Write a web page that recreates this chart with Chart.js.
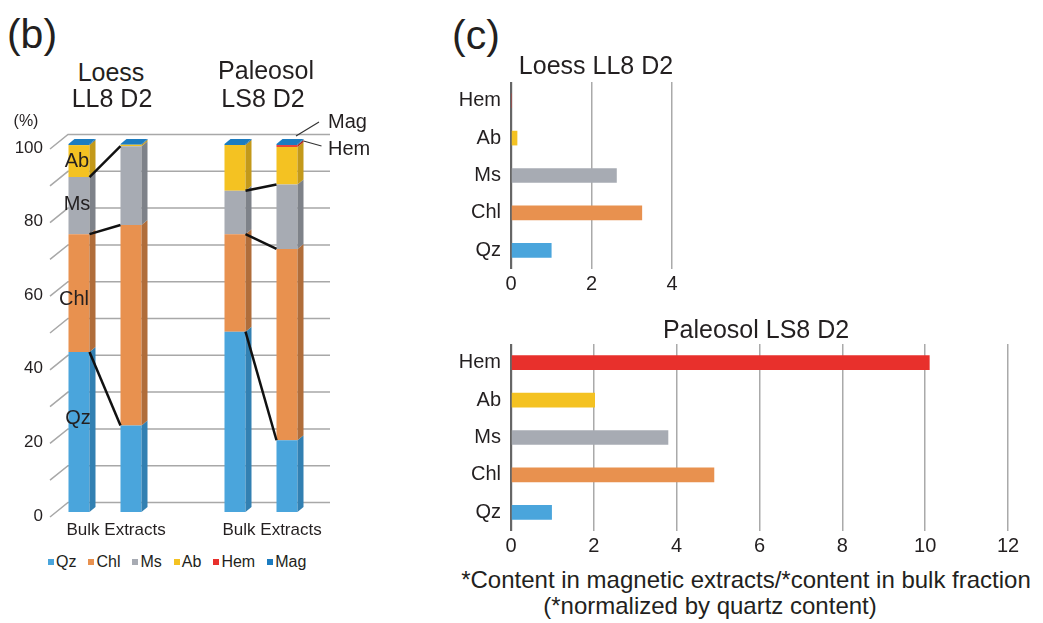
<!DOCTYPE html>
<html>
<head>
<meta charset="utf-8">
<script src="https://cdn.jsdelivr.net/npm/chart.js@4.4.1/dist/chart.umd.min.js"></script>
<style>
body{margin:0;width:1043px;height:623px;background:#fff;position:relative;overflow:hidden;font-family:'Liberation Sans',Arial,sans-serif;color:#231f20}
.t{position:absolute;white-space:nowrap;line-height:1;transform:translate(-50%,-50%);z-index:2}
.l{position:absolute;white-space:nowrap;line-height:1;transform:translateY(-50%);z-index:2}
.wrap{position:absolute;z-index:1}
canvas{display:block}
#legend{position:absolute;left:48px;top:553px;height:18px;display:flex;align-items:center;font-size:16px;z-index:2}
#legend span.i{display:flex;align-items:center;margin-right:12px}
#legend span.b{width:6px;height:6px;margin-right:2px;display:inline-block}
</style>
</head>
<body>

<div class="t" style="left:32px;top:34px;font-size:41px">(b)</div>
<div class="t" style="left:111px;top:72px;font-size:25px">Loess</div>
<div class="t" style="left:112px;top:98px;font-size:25px">LL8 D2</div>
<div class="t" style="left:266px;top:70px;font-size:25px">Paleosol</div>
<div class="t" style="left:263px;top:98px;font-size:25px">LS8 D2</div>
<div class="t" style="left:26px;top:121px;font-size:16px">(%)</div>

<div class="t" style="left:77px;top:160px;font-size:20px">Ab</div>
<div class="t" style="left:77px;top:203px;font-size:20px">Ms</div>
<div class="t" style="left:74px;top:298px;font-size:20px">Chl</div>
<div class="t" style="left:78px;top:417px;font-size:20px">Qz</div>
<div class="l" style="left:328px;top:121px;font-size:20px">Mag</div>
<div class="l" style="left:328px;top:148px;font-size:20px">Hem</div>

<div class="wrap" style="left:0;top:100px"><canvas id="chartB" width="340" height="446"></canvas></div>
<div id="legend"></div>

<div class="t" style="left:476px;top:35px;font-size:41px">(c)</div>
<div class="t" style="left:596px;top:65px;font-size:25px">Loess LL8 D2</div>
<div class="t" style="left:756px;top:329px;font-size:25px">Paleosol LS8 D2</div>
<div class="wrap" style="left:440px;top:60px"><canvas id="chartC1" width="260" height="240"></canvas></div>
<div class="wrap" style="left:440px;top:322px"><canvas id="chartC2" width="600" height="240"></canvas></div>
<div class="t" style="left:746px;top:580px;font-size:24px">*Content in magnetic extracts/*content in bulk fraction</div>
<div class="t" style="left:710px;top:606px;font-size:24px">(*normalized by quartz content)</div>

<script>
// (b) mineral composition, %
const samples = ['Bulk', 'Extracts', '', 'Bulk', 'Extracts'];
const series = ['Qz', 'Chl', 'Ms', 'Ab', 'Hem', 'Mag'];
const qzPct  = [43.5, 23.5, null, 49.0, 19.5];
const chlPct = [32.0, 54.5, null, 26.5, 52.0];
const msPct  = [15.5, 21.4, null, 11.8, 17.5];
const abPct  = [8.7, 0.4, null, 12.4, 10.2];
const hemPct = [0, 0, null, 0, 0.5];
const magPct = [0.3, 0.2, null, 0.3, 0.3];

// (c) extract/bulk ratio, normalized by quartz
const minerals = ['Hem', 'Ab', 'Ms', 'Chl', 'Qz'];
const loessRatio = [0, 0.15, 2.62, 3.25, 1.0];
const paleoRatio = [10.1, 2.02, 3.79, 4.9, 0.98];
const pctTicks = [0, 20, 40, 60, 80, 100];

// colours
const colors = {Qz: '#4aa5dc', Chl: '#e8914f', Ms: '#a7abb3', Ab: '#f4c222', Hem: '#e8302c', Mag: '#1c7cc0'};
const sideColors = {Qz: '#3280b2', Chl: '#b06d3a', Ms: '#7e8289', Ab: '#c3991a', Hem: '#b32421', Mag: '#165f93'};
const textColor = '#231f20';
const font = "'Liberation Sans', Arial, sans-serif";

// legend
const legend = document.getElementById('legend');
series.forEach((s) => {
    const item = document.createElement('span');
    item.className = 'i';
    item.innerHTML = '<span class="b" style="background:' + colors[s] + '"></span>' + s;
    legend.appendChild(item);
});

// 3D look for the stacked bars
const dx = 6, dy = -5;
const pairs = [[0, 1], [3, 4]];
const linked = [0, 1, 2];

const threeD = {
    id: 'threeD',
    beforeDatasetsDraw(chart) {
        const ctx = chart.ctx;
        const y = chart.scales.y;
        const area = chart.chartArea;
        ctx.save();
        ctx.strokeStyle = '#a8a8a8';
        ctx.lineWidth = 1.5;
        y.ticks.forEach((t) => {
            const yb = y.getPixelForValue(t.value);
            ctx.beginPath();
            ctx.moveTo(area.left - 3, yb + 5);
            ctx.lineTo(area.left + 15, yb - 9.5);
            ctx.lineTo(area.right + 17, yb - 9.5);
            ctx.stroke();
        });
        ctx.restore();
    },
    afterDatasetsDraw(chart) {
        const ctx = chart.ctx;
        ctx.save();
        const metas = chart.getSortedVisibleDatasetMetas();
        // side faces
        metas.forEach((meta) => {
            const name = series[meta.index];
            meta.data.forEach((bar, i) => {
                const v = chart.data.datasets[meta.index].data[i];
                if (!v) return;
                const r = bar.x + bar.width / 2;
                ctx.fillStyle = sideColors[name];
                ctx.beginPath();
                ctx.moveTo(r, bar.y);
                ctx.lineTo(r + dx, bar.y + dy);
                ctx.lineTo(r + dx, bar.base + dy);
                ctx.lineTo(r, bar.base);
                ctx.closePath();
                ctx.fill();
            });
        });
        // top faces
        samples.forEach((s, i) => {
            let top = null, name = null;
            metas.forEach((meta) => {
                const v = chart.data.datasets[meta.index].data[i];
                if (v) { top = meta.data[i]; name = series[meta.index]; }
            });
            if (!top) return;
            const l = top.x - top.width / 2, r = top.x + top.width / 2;
            ctx.fillStyle = colors[name];
            ctx.beginPath();
            ctx.moveTo(l, top.y);
            ctx.lineTo(l + dx, top.y + dy);
            ctx.lineTo(r + dx, top.y + dy);
            ctx.lineTo(r, top.y);
            ctx.closePath();
            ctx.fill();
        });
        // lines linking bulk and extracts
        ctx.strokeStyle = '#111';
        ctx.lineWidth = 2.5;
        pairs.forEach(([a, b]) => {
            linked.forEach((si) => {
                const m = chart.getDatasetMeta(si);
                const p = m.data[a], q = m.data[b];
                ctx.beginPath();
                ctx.moveTo(p.x + p.width / 2, p.y);
                ctx.lineTo(q.x - q.width / 2, q.y);
                ctx.stroke();
            });
        });
        // leaders for Mag and Hem labels
        const mag = chart.getDatasetMeta(5).data[4];
        const r = mag.x + mag.width / 2;
        ctx.strokeStyle = '#333';
        ctx.lineWidth = 1.2;
        ctx.beginPath();
        ctx.moveTo(mag.x + 9, mag.y - 8);
        ctx.lineTo(mag.x + 32, mag.y - 22);
        ctx.moveTo(r + 6, mag.y - 3);
        ctx.lineTo(r + 24, mag.y + 2);
        ctx.stroke();
        ctx.restore();
    }
};

const datasetsB = [qzPct, chlPct, msPct, abPct, hemPct, magPct].map((d, i) => ({
    label: series[i],
    data: d,
    backgroundColor: colors[series[i]],
    barPercentage: 0.404,
    categoryPercentage: 1,
}));

new Chart(document.getElementById('chartB'), {
    type: 'bar',
    data: {labels: samples, datasets: datasetsB},
    plugins: [threeD],
    options: {
        responsive: false,
        animation: false,
        layout: {padding: {top: 44, right: 27, bottom: 0, left: 0}},
        plugins: {legend: {display: false}, tooltip: {enabled: false}},
        scales: {
            x: {
                stacked: true,
                grid: {display: false, drawTicks: false},
                border: {display: false},
                ticks: {color: textColor, font: {family: font, size: 17}, padding: 8, labelOffset: 4, maxRotation: 0, autoSkip: false},
                afterFit: (s) => { s.height = 34; },
            },
            y: {
                stacked: true,
                min: 0,
                max: 100,
                grid: {display: false, drawTicks: false},
                border: {display: false},
                ticks: {
                    stepSize: 10,
                    autoSkip: false,
                    color: textColor,
                    font: {family: font, size: 17},
                    padding: 10,
                    labelOffset: 4,
                    callback: (v) => (pctTicks.includes(v) ? v : ''),
                },
                afterFit: (s) => { s.width = 53; },
            },
        },
    },
});

// (c) horizontal bar charts
function ratioChart(id, values, xmax, pad) {
    return new Chart(document.getElementById(id), {
        type: 'bar',
        data: {
            labels: minerals,
            datasets: [{
                data: values,
                backgroundColor: minerals.map((m) => colors[m]),
                barThickness: 14,
            }],
        },
        options: {
            indexAxis: 'y',
            responsive: false,
            animation: false,
            layout: {padding: pad},
            plugins: {legend: {display: false}, tooltip: {enabled: false}},
            scales: {
                x: {
                    min: 0,
                    max: xmax,
                    border: {display: false},
                    grid: {
                        drawTicks: false,
                        color: (c) => (c.tick && c.tick.value === 0 ? '#666' : '#aaaaaa'),
                        lineWidth: (c) => (c.tick && c.tick.value === 0 ? 2.2 : 1.5),
                    },
                    ticks: {stepSize: 2, color: textColor, font: {family: font, size: 20}, padding: 3},
                    afterFit: (s) => { s.height = 31; },
                },
                y: {
                    grid: {display: false, drawTicks: false},
                    border: {display: false},
                    ticks: {color: textColor, font: {family: font, size: 20}, padding: 10},
                    afterFit: (s) => { s.width = 71; },
                },
            },
        },
    });
}

ratioChart('chartC1', loessRatio, 4, {top: 19, right: 28, bottom: 0, left: 0});
ratioChart('chartC2', paleoRatio, 12, {top: 19, right: 32, bottom: 0, left: 0});
</script>
</body>
</html>
